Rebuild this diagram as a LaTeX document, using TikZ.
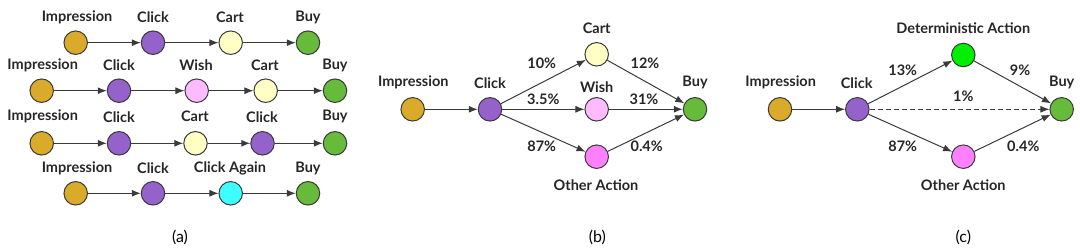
\documentclass[tikz,border=0pt]{standalone}
\usepackage{fontspec}
\setmainfont{Lato}
\usetikzlibrary{arrows.meta}
\definecolor{cimp}{HTML}{DAAA2A}
\definecolor{cclk}{HTML}{9562CC}
\definecolor{ccart}{HTML}{FFFFC4}
\definecolor{cwish}{HTML}{FFBBFF}
\definecolor{cbuy}{HTML}{66BB3A}
\definecolor{cagain}{HTML}{3EFFFF}
\definecolor{cother}{HTML}{FF80FF}
\definecolor{cdet}{HTML}{00EE00}
\definecolor{cline}{HTML}{3A3A3A}
\tikzset{
  st/.style={circle,draw=cline,line width=1pt,minimum size=23.5pt,inner sep=0pt},
  lab/.style={font=\fontsize{14.5}{15}\selectfont\bfseries,inner sep=0pt,text=black!85},
  captxt/.style={font=\fontsize{16}{17}\selectfont,inner sep=0pt},
  ar/.style={draw=cline,line width=1pt,-{Latex[length=9pt,width=7pt]}},
}
\begin{document}
\begin{tikzpicture}[x=1pt,y=-1pt]
\useasboundingbox (0,0) rectangle (1080,251);
% ---------- (a) ----------
% row 1
\node[st,fill=cimp] (a1) at (75.7,42.7) {};
\node[st,fill=cclk] (a2) at (153,42.7) {};
\node[st,fill=ccart] (a3) at (230.7,42.7) {};
\node[st,fill=cbuy] (a4) at (308,42.7) {};
\node[lab] (la1) at (77,17) {Impression};
\node[lab] (la2) at (153,17) {Click};
\node[lab] (la3) at (230,17) {Cart};
\node[lab] (la4) at (308,17) {Buy};
\draw[ar] (a1) -- (a2);
\draw[ar] (a2) -- (a3);
\draw[ar] (a3) -- (a4);
% row 2
\node[st,fill=cimp] (b1) at (41.7,90.7) {};
\node[st,fill=cclk] (b2) at (119,90.7) {};
\node[st,fill=cwish] (b3) at (196.7,90.7) {};
\node[st,fill=ccart] (b4) at (265.7,90.7) {};
\node[st,fill=cbuy] (b5) at (335,90.7) {};
\node[lab] (lb1) at (42.7,65) {Impression};
\node[lab] (lb2) at (119,65) {Click};
\node[lab] (lb3) at (196,65) {Wish};
\node[lab] (lb4) at (265,65) {Cart};
\node[lab] (lb5) at (335,65) {Buy};
\draw[ar] (b1) -- (b2);
\draw[ar] (b2) -- (b3);
\draw[ar] (b3) -- (b4);
\draw[ar] (b4) -- (b5);
% row 3
\node[st,fill=cimp] (c1) at (41.7,143.3) {};
\node[st,fill=cclk] (c2) at (119,143.3) {};
\node[st,fill=ccart] (c3) at (195.5,143.3) {};
\node[st,fill=cclk] (c4) at (262.5,143.3) {};
\node[st,fill=cbuy] (c5) at (335,143.3) {};
\node[lab] (lc1) at (42.7,116.7) {Impression};
\node[lab] (lc2) at (119,116.7) {Click};
\node[lab] (lc3) at (195,116.7) {Cart};
\node[lab] (lc4) at (262,116.7) {Click};
\node[lab] (lc5) at (335,116.7) {Buy};
\draw[ar] (c1) -- (c2);
\draw[ar] (c2) -- (c3);
\draw[ar] (c3) -- (c4);
\draw[ar] (c4) -- (c5);
% row 4
\node[st,fill=cimp] (d1) at (75.7,193.3) {};
\node[st,fill=cclk] (d2) at (153,193.3) {};
\node[st,fill=cagain] (d3) at (230.7,193.3) {};
\node[st,fill=cbuy] (d4) at (308,193.3) {};
\node[lab] (ld1) at (77,168.3) {Impression};
\node[lab] (ld2) at (153,168.3) {Click};
\node[lab] (ld3) at (230,168.3) {Click Again};
\node[lab] (ld4) at (308,168.3) {Buy};
\draw[ar] (d1) -- (d2);
\draw[ar] (d2) -- (d3);
\draw[ar] (d3) -- (d4);
\node[captxt] (capa) at (180,237.7) {(a)};
% ---------- (b) ----------
\node[st,fill=cimp] (bi) at (412.7,109.3) {};
\node[st,fill=cclk] (bc) at (490,109.3) {};
\node[st,fill=ccart] (bct) at (596.7,54.3) {};
\node[st,fill=cwish] (bw) at (596.7,109.3) {};
\node[st,fill=cother] (bo) at (596.7,156.7) {};
\node[st,fill=cbuy] (bb) at (695,109.3) {};
\node[lab] (lbi) at (413.3,82.7) {Impression};
\node[lab] (lbc) at (490,82.7) {Click};
\node[lab] (lbct) at (596.7,28.3) {Cart};
\node[lab] (lbw) at (596.7,87.3) {Wish};
\node[lab] (lbb) at (695,82.7) {Buy};
\node[lab] (lbo) at (596,185) {Other Action};
\draw[ar] (bi) -- (bc);
\draw[ar] (bc) -- (bct);
\draw[ar] (bc) -- (bw);
\draw[ar] (bc) -- (bo);
\draw[ar] (bct) -- (bb);
\draw[ar] (bw) -- (bb);
\draw[ar] (bo) -- (bb);
\node[lab] (p1) at (541.7,63.3) {10\%};
\node[lab] (p2) at (543.3,99) {3.5\%};
\node[lab] (p3) at (541.7,146.7) {87\%};
\node[lab] (p4) at (645,63.3) {12\%};
\node[lab] (p5) at (644,99) {31\%};
\node[lab] (p6) at (646.7,146.7) {0.4\%};
\node[captxt] (capb) at (597.3,237.7) {(b)};
% ---------- (c) ----------
\node[st,fill=cimp] (ci) at (780,109.3) {};
\node[st,fill=cclk] (cc) at (857.3,109.3) {};
\node[st,fill=cdet] (cd) at (963.3,55) {};
\node[st,fill=cother] (co) at (963.3,156.7) {};
\node[st,fill=cbuy] (cb) at (1061.7,109.3) {};
\node[lab] (lci) at (780.7,82.7) {Impression};
\node[lab] (lcc) at (856.7,82.7) {Click};
\node[lab] (lcd) at (963.3,28.3) {Deterministic Action};
\node[lab] (lcb) at (1061.7,82.7) {Buy};
\node[lab] (lco) at (963.3,185) {Other Action};
\draw[ar] (ci) -- (cc);
\draw[ar] (cc) -- (cd);
\draw[ar,dashed,dash pattern=on 5pt off 3pt] (cc) -- (cb);
\draw[ar] (cc) -- (co);
\draw[ar] (cd) -- (cb);
\draw[ar] (co) -- (cb);
\node[lab] (q1) at (902.7,70) {13\%};
\node[lab] (q2) at (1020,70) {9\%};
\node[lab] (q3) at (963.3,96) {1\%};
\node[lab] (q4) at (902.7,146.7) {87\%};
\node[lab] (q5) at (1023.3,146.7) {0.4\%};
\node[captxt] (capc) at (963.3,237.7) {(c)};
\end{tikzpicture}
\end{document}
